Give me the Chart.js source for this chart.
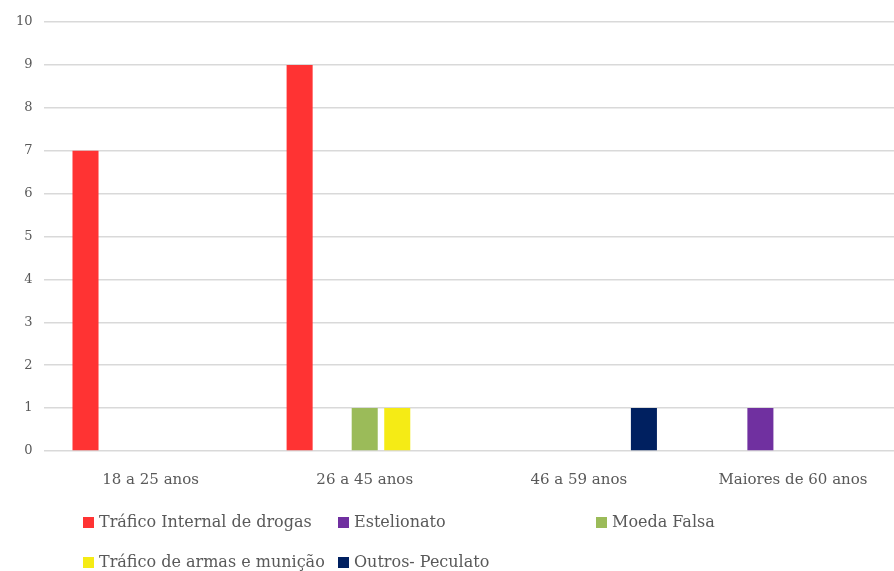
<!DOCTYPE html>
<html>
<head>
<meta charset="utf-8">
<script src="https://cdn.jsdelivr.net/npm/chart.js@4/dist/chart.umd.min.js"></script>
<style>
  html, body { margin: 0; padding: 0; background: #fff; overflow: hidden; }
  #wrap { position: relative; width: 894px; height: 571px; overflow: hidden; }
  #chart { position: absolute; left: 0; top: 0; }
  #legend { position: absolute; left: 0; top: 0; width: 894px; height: 571px; pointer-events: none;
            font-family: "DejaVu Serif", serif; font-size: 16px; color: #595959; }
  .item { position: absolute; white-space: nowrap; line-height: 18px; }
  .item span.sw { display: inline-block; width: 11px; height: 11px; margin-right: 5px; vertical-align: -1px; }
</style>
</head>
<body>
<div id="wrap">
  <canvas id="chart" width="900" height="507"></canvas>
  <div id="legend"></div>
</div>
<script>
// categories and tick labels
var categories = ['18 a 25 anos', '26 a 45 anos', '46 a 59 anos', 'Maiores de 60 anos'];
var seriesNames = ['Tráfico Internal de drogas', 'Estelionato', 'Moeda Falsa', 'Tráfico de armas e munição', 'Outros- Peculato'];
var seriesColors = ['#FF3333', '#7030A0', '#9BBB59', '#F5EB15', '#002060'];

// values per series, one per category
var trafDrogas = [7, 9, 0, 0];
var estelionato = [0, 0, 0, 1];
var moedaFalsa = [0, 1, 0, 0];
var trafArmas = [0, 1, 0, 0];
var peculato = [0, 0, 1, 0];
var seriesValues = [trafDrogas, estelionato, moedaFalsa, trafArmas, peculato];

var legendSpots = [[83, 513], [338, 513], [596, 513], [83, 553], [338, 553]];

var datasets = seriesNames.map(function (name, i) {
  return {
    label: name,
    data: seriesValues[i],
    backgroundColor: seriesColors[i],
    borderWidth: 0,
    categoryPercentage: 0.76,
    barPercentage: 0.8
  };
});

var ctx = document.getElementById('chart').getContext('2d');
var chart = new Chart(ctx, {
  type: 'bar',
  data: { labels: categories, datasets: datasets },
  options: {
    responsive: false,
    animation: false,
    layout: { padding: { top: 22, right: 0, left: 5, bottom: 6 } },
    plugins: { legend: { display: false }, tooltip: { enabled: false } },
    scales: {
      x: {
        grid: { display: false },
        border: { display: false },
        ticks: { color: '#595959', font: { family: 'DejaVu Serif', size: 15 }, padding: 12 }
      },
      y: {
        min: 0, max: 10,
        grid: { color: '#D9D9D9', lineWidth: 1.5, drawTicks: false },
        border: { display: false },
        ticks: { stepSize: 1, color: '#595959', font: { family: 'DejaVu Serif', size: 13 }, padding: 11 }
      }
    }
  }
});

// html legend laid out in columns like the original
var $legend = document.getElementById('legend');
chart.data.datasets.forEach(function (ds, i) {
  var d = document.createElement('div');
  d.className = 'item';
  d.style.left = legendSpots[i][0] + 'px';
  d.style.top = legendSpots[i][1] + 'px';
  d.innerHTML = '<span class="sw" style="background:' + ds.backgroundColor + '"></span>' + ds.label;
  $legend.appendChild(d);
});
</script>
</body>
</html>
